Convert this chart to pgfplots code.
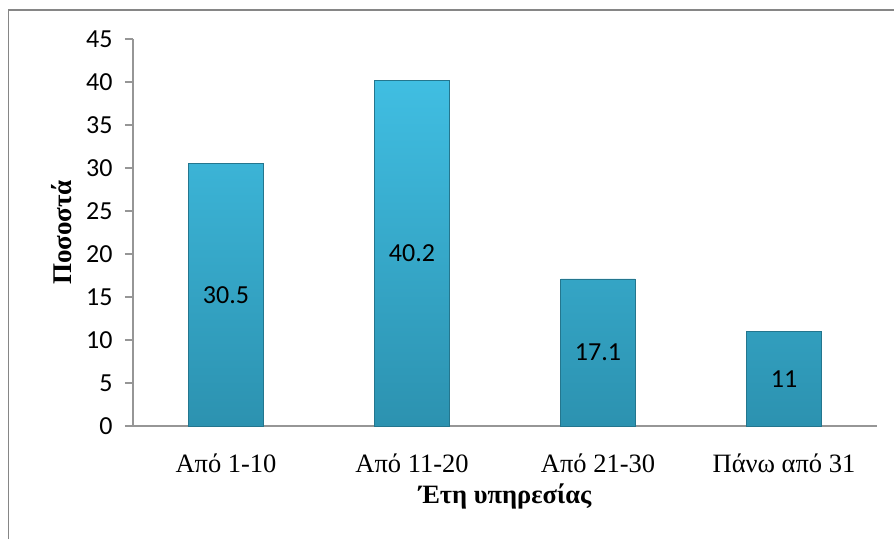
\documentclass[border=0pt]{standalone}
\usepackage{pgfplots}
\pgfplotsset{compat=1.18}
\usepackage{pgfplotstable}
\usepackage{fontspec}
\setmainfont{Liberation Serif}
\newfontfamily\calfont{Carlito}
\definecolor{bartop}{RGB}{64,190,226}
\definecolor{barbot}{RGB}{44,146,176}
\definecolor{baredge}{RGB}{36,118,142}
\definecolor{framegray}{RGB}{134,134,134}
\definecolor{axgray}{RGB}{150,150,150}
\pgfplotstableread{
x y lbl
0 30.5 30.5
1 40.2 40.2
2 17.1 17.1
3 11 11
}\data
\begin{document}
\begin{tikzpicture}[x=1pt,y=1pt]
\path[use as bounding box] (0,0) rectangle (894,539);
\draw[framegray, line width=1.6pt] (8.5,0) -- (8.5,529) -- (894,529);
\begin{axis}[
  at={(133pt,113pt)}, anchor=south west,
  scale only axis, width=744pt, height=387pt,
  xmin=-0.5, xmax=3.5, ymin=0, ymax=45,
  axis x line*=bottom, axis y line*=left,
  axis line style={-, axgray, line width=1.3pt},
  ytick={0,5,...,45},
  xtick={0,1,2,3},
  xticklabels={Από 1-10, Από 11-20, Από 21-30, Πάνω από 31},
  tick align=outside,
  major tick length=8pt,
  x tick style={draw=none},
  y tick style={axgray, line width=1.2pt},
  /pgf/number format/assume math mode=true,
  yticklabel style={font=\calfont\fontsize{26}{30}\selectfont, anchor=east, xshift=-9pt},
  xticklabel style={font=\fontsize{26.5}{31}\selectfont, anchor=base, yshift=-38pt},
  xlabel={Έτη υπηρεσίας},
  ylabel={Ποσοστά},
  xlabel style={font=\bfseries\fontsize{26.5}{31}\selectfont, at={(axis description cs:0.5,-0.183)}, anchor=center},
  ylabel style={font=\bfseries\fontsize{27}{31}\selectfont, at={(axis description cs:-0.0954,0.5)}, anchor=center, rotate=0},
  clip=false,
]
\addplot[ybar, bar width=0.4, bar shift=0pt, top color=bartop, bottom color=barbot, draw=baredge, line width=0.8pt]
  table[x=x, y=y] {\data};
\addplot[draw=none, mark=none, nodes near coords, point meta=explicit symbolic,
  every node near coord/.style={anchor=center, font=\calfont\fontsize{26}{30}\selectfont, text=black}]
  table[x=x, y expr=\thisrow{y}/2, meta=lbl] {\data};
\end{axis}
\end{tikzpicture}
\end{document}
